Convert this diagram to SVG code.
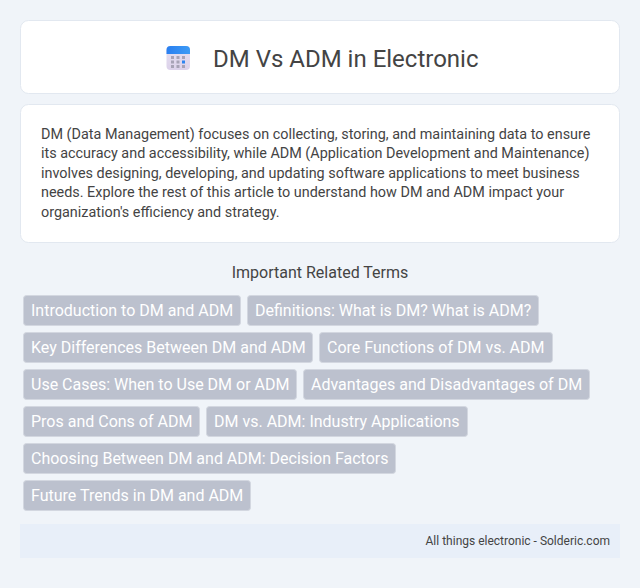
<svg xmlns="http://www.w3.org/2000/svg" width="640" height="588" viewBox="0 0 640 588">
<style>
text{font-family:Roboto,"Liberation Sans",sans-serif}
.card{fill:#fff;stroke:#e2e8f0;stroke-width:1}
.tag rect{fill:#bcc1ce;stroke:#d3d7e0;stroke-width:1}
.tag text{font-size:16px;fill:#fff}
.p{font-size:14.4px;fill:#444}
</style>
<defs>
<linearGradient id="top" x1="0" y1="0" x2="1" y2="0"><stop offset="0" stop-color="#2a7ff0"/><stop offset="1" stop-color="#3d9bf5"/></linearGradient>
<linearGradient id="body" x1="0" y1="0" x2="0" y2="1"><stop offset="0" stop-color="#e6e0f0"/><stop offset="1" stop-color="#dcd2ea"/></linearGradient>
</defs>
<rect width="640" height="588" fill="#f0f4f9"/>
<g id="header">
<rect class="card" x="20.500" y="20.500" width="599" height="73" rx="8"/>
<g id="icon">
<rect x="166.500" y="46" width="23.500" height="24" rx="4" fill="url(#body)"/>
<path d="M166.500 54V50a4 4 0 0 1 4-4h15.500a4 4 0 0 1 4 4v4z" fill="url(#top)"/>
<g fill="#a8a3b6"><rect x="171" y="56" width="3" height="3"/><rect x="176.500" y="56" width="3" height="3"/><rect x="182" y="56" width="3" height="3"/><rect x="171" y="60.500" width="3" height="3"/><rect x="176.500" y="60.500" width="3" height="3"/><rect x="171" y="65" width="3" height="3"/><rect x="176.500" y="65" width="3" height="3"/><rect x="182" y="65" width="3" height="3"/></g>
<rect x="182" y="60.500" width="3" height="3" fill="#2d85f0"/>
</g>
<text x="213" y="67" font-size="24" fill="#444">DM Vs ADM in Electronic</text>
</g>
<g id="intro">
<rect class="card" x="20.500" y="104.500" width="599" height="138" rx="8"/>
<text class="p" x="41" y="139">DM (Data Management) focuses on collecting, storing, and maintaining data to ensure</text>
<text class="p" x="41" y="158">its accuracy and accessibility, while ADM (Application Development and Maintenance)</text>
<text class="p" x="41" y="178">involves designing, developing, and updating software applications to meet business</text>
<text class="p" x="41" y="197">needs. Explore the rest of this article to understand how DM and ADM impact your</text>
<text class="p" x="41" y="217">organization's efficiency and strategy.</text>
</g>
<text id="terms-title" x="320" y="278" font-size="16" fill="#444" text-anchor="middle">Important Related Terms</text>
<g id="tag1" class="tag"><rect x="23.500" y="295.500" width="217" height="30" rx="3"/><text x="31" y="316">Introduction to DM and ADM</text></g>
<g id="tag2" class="tag"><rect x="247.500" y="295.500" width="291" height="30" rx="3"/><text x="255" y="316">Definitions: What is DM? What is ADM?</text></g>
<g id="tag3" class="tag"><rect x="23.500" y="332.500" width="289" height="30" rx="3"/><text x="31" y="353">Key Differences Between DM and ADM</text></g>
<g id="tag4" class="tag"><rect x="319.500" y="332.500" width="233" height="30" rx="3"/><text x="327" y="353">Core Functions of DM vs. ADM</text></g>
<g id="tag5" class="tag"><rect x="23.500" y="369.500" width="273" height="30" rx="3"/><text x="31" y="390">Use Cases: When to Use DM or ADM</text></g>
<g id="tag6" class="tag"><rect x="303.500" y="369.500" width="286" height="30" rx="3"/><text x="311" y="390">Advantages and Disadvantages of DM</text></g>
<g id="tag7" class="tag"><rect x="23.500" y="406.500" width="176" height="30" rx="3"/><text x="31" y="427">Pros and Cons of ADM</text></g>
<g id="tag8" class="tag"><rect x="206.500" y="406.500" width="261" height="30" rx="3"/><text x="214" y="427">DM vs. ADM: Industry Applications</text></g>
<g id="tag9" class="tag"><rect x="23.500" y="443.500" width="372" height="30" rx="3"/><text x="31" y="464">Choosing Between DM and ADM: Decision Factors</text></g>
<g id="tag10" class="tag"><rect x="23.500" y="480.500" width="227" height="30" rx="3"/><text x="31" y="501">Future Trends in DM and ADM</text></g>
<g id="footer">
<rect x="20" y="524" width="600" height="34" fill="#e8eff9"/>
<text x="610" y="545" font-size="12" fill="#444" text-anchor="end">All things electronic - Solderic.com</text>
</g>
</svg>
